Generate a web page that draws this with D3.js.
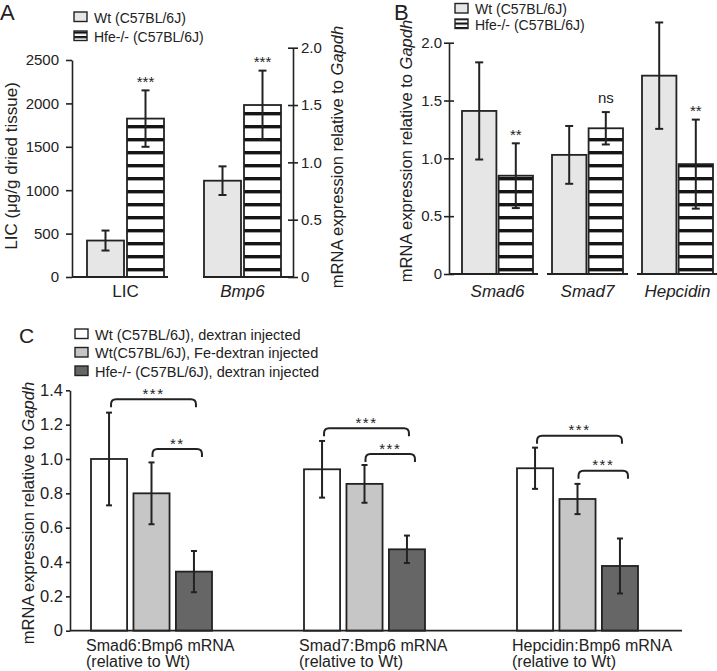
<!DOCTYPE html>
<html>
<head>
<meta charset="utf-8">
<script src="https://cdnjs.cloudflare.com/ajax/libs/d3/7.8.5/d3.min.js"></script>
<style>
body { margin: 0; background: #fff; }
svg { font-family: "Liberation Sans", Arial, Helvetica, sans-serif; }
</style>
</head>
<body>
<svg id="fig" width="717" height="671"></svg>
<script>
// ---- panel A data ----
var aGroups = ["LIC", "Bmp6"];
var aSeries = ["Wt (C57BL/6J)", "Hfe-/- (C57BL/6J)"];
var aWt = [420, 0.84], aWtErr = [115, 0.125];
var aHfe = [1825, 1.5], aHfeErr = [325, 0.3];
var aSig = ["***", "***"];
var aLeftTicks = [0, 500, 1000, 1500, 2000, 2500];
var aRightTicks = [0, 0.5, 1.0, 1.5, 2.0];

// ---- panel B data ----
var bGroups = ["Smad6", "Smad7", "Hepcidin"];
var bWt = [1.41, 1.03, 1.715], bWtErr = [0.42, 0.25, 0.46];
var bHfe = [0.85, 1.26, 0.95], bHfeErr = [0.28, 0.14, 0.385];
var bSig = ["**", "ns", "**"];
var bTicks = [0, 0.5, 1.0, 1.5, 2.0];

// ---- panel C data ----
var cGroups = ["Smad6:Bmp6 mRNA", "Smad7:Bmp6 mRNA", "Hepcidin:Bmp6 mRNA"];
var cSub = "(relative to Wt)";
var cSeries = ["Wt (C57BL/6J), dextran injected", "Wt(C57BL/6J), Fe-dextran injected", "Hfe-/- (C57BL/6J), dextran injected"];
var cWt = [1.0, 0.94, 0.946], cWtErr = [0.27, 0.165, 0.12];
var cFe = [0.80, 0.855, 0.767], cFeErr = [0.18, 0.11, 0.088];
var cHfe = [0.344, 0.474, 0.377], cHfeErr = [0.12, 0.08, 0.16];
var cBracketWide = [1.348, 1.179, 1.136], cBracketNarrow = [1.058, 1.029, 0.932];
var cSigWide = ["***", "***", "***"], cSigNarrow = ["**", "***", "***"];
var cTicks = [0, 0.2, 0.4, 0.6, 0.8, 1.0, 1.2, 1.4];

var ink = "#222";
var svg = d3.select("#fig");

var defs = svg.append("defs");
var hatch = defs.append("pattern").attr("id", "hatch")
    .attr("patternUnits", "userSpaceOnUse").attr("width", 10).attr("height", 13);
hatch.append("rect").attr("width", 10).attr("height", 13).attr("fill", "#fff");
hatch.append("rect").attr("y", 8).attr("width", 10).attr("height", 3.4).attr("fill", "#151515");
var hatchSmall = defs.append("pattern").attr("id", "hatchSmall")
    .attr("patternUnits", "userSpaceOnUse").attr("width", 10).attr("height", 4.5);
hatchSmall.append("rect").attr("width", 10).attr("height", 4.5).attr("fill", "#fff");
hatchSmall.append("rect").attr("y", 0).attr("width", 10).attr("height", 2.2).attr("fill", "#151515");

var fmt1 = function(d) { return d === 0 ? "0" : d3.format(".1f")(d); };

function styleAxis(g, fontSize) {
  g.select(".domain").attr("stroke", ink).attr("stroke-width", 1.6);
  g.selectAll(".tick line").attr("stroke", ink).attr("stroke-width", 1.6);
  g.selectAll(".tick text").attr("fill", ink).style("font-size", fontSize + "px")
    .style("font-family", "'Liberation Sans', Arial, sans-serif");
}

function errorBar(g, x, y0, y1, cap) {
  g.append("line").attr("x1", x).attr("x2", x).attr("y1", y0).attr("y2", y1)
    .attr("stroke", ink).attr("stroke-width", 2);
  [y0, y1].forEach(function(yy) {
    g.append("line").attr("x1", x - cap / 2).attr("x2", x + cap / 2).attr("y1", yy).attr("y2", yy)
      .attr("stroke", ink).attr("stroke-width", 2);
  });
}

function hline(x1, x2, y) {
  svg.append("line").attr("x1", x1).attr("x2", x2).attr("y1", y).attr("y2", y)
    .attr("stroke", ink).attr("stroke-width", 1.8);
}

function legend(x, y, items, fills, step, fs) {
  items.forEach(function(t, i) {
    svg.append("rect").attr("x", x).attr("y", y + i * step).attr("width", 13).attr("height", 9.5)
      .attr("fill", fills[i]).attr("stroke", ink).attr("stroke-width", 1.4);
    svg.append("text").attr("x", x + 20).attr("y", y + i * step + 10.5)
      .style("font-size", fs + "px").attr("fill", ink).text(t);
  });
}

// ================= Panel A =================
var aBase = 277;
var yAL = d3.scaleLinear().domain([0, 2500]).range([aBase, 60]);
var yAR = d3.scaleLinear().domain([0, 2]).range([aBase, 47.7]);
var xA0 = d3.scaleBand().domain(aGroups).range([87, 87 + 117 + 77]).paddingInner(1 - 77 / 117).paddingOuter(0);
var xA1 = d3.scaleBand().domain(aSeries).range([0, xA0.bandwidth()]).paddingInner(0.075);

var gA = svg.append("g");
aGroups.forEach(function(grp, i) {
  var y = i === 0 ? yAL : yAR;
  var rows = [
    {s: aSeries[0], v: aWt[i], e: aWtErr[i], fill: "#e6e6e6"},
    {s: aSeries[1], v: aHfe[i], e: aHfeErr[i], fill: "url(#hatch)"}
  ];
  rows.forEach(function(r) {
    var x = xA0(grp) + xA1(r.s);
    gA.append("rect").attr("x", x).attr("y", y(r.v)).attr("width", xA1.bandwidth())
      .attr("height", aBase - y(r.v)).attr("fill", r.fill).attr("stroke", ink).attr("stroke-width", 1.8);
    errorBar(gA, x + xA1.bandwidth() / 2, y(r.v + r.e), y(r.v - r.e), 8);
  });
  var cx = xA0(grp) + xA1(aSeries[1]) + xA1.bandwidth() / 2;
  gA.append("text").attr("x", cx).attr("y", y(aHfe[i] + aHfeErr[i]) - 3.5).attr("text-anchor", "middle")
    .style("font-size", "15px").attr("fill", ink).text(aSig[i]);
  gA.append("text").attr("x", xA0(grp) + xA0.bandwidth() / 2).attr("y", 297).attr("text-anchor", "middle")
    .style("font-size", "17px").style("font-style", i === 1 ? "italic" : "normal").attr("fill", ink).text(grp);
});
hline(72, xA0("LIC") + xA0.bandwidth() + 4, aBase);
hline(xA0("Bmp6") - 1, 293, aBase);

var axAL = svg.append("g").attr("transform", "translate(72,0)")
  .call(d3.axisLeft(yAL).tickValues(aLeftTicks).tickSize(6).tickSizeOuter(0).tickPadding(7).tickFormat(d3.format("d")));
styleAxis(axAL, 15);
var axAR = svg.append("g").attr("transform", "translate(293,0)")
  .call(d3.axisRight(yAR).tickValues(aRightTicks).tickSize(5).tickSizeOuter(0).tickPadding(3).tickFormat(fmt1));
styleAxis(axAR, 15);
axAR.selectAll(".tick line").attr("x1", -5);

svg.append("text").attr("transform", "translate(16.5,166) rotate(-90)").attr("text-anchor", "middle")
  .style("font-size", "17px").attr("fill", ink).text("LIC (\u03bcg/g dried tissue)");
var rl = svg.append("text").attr("transform", "translate(343,157) rotate(-90)").attr("text-anchor", "middle")
  .style("font-size", "16.5px").attr("fill", ink);
rl.append("tspan").text("mRNA expression relative to ");
rl.append("tspan").style("font-style", "italic").text("Gapdh");

legend(74, 12, aSeries, ["#e6e6e6", "url(#hatchSmall)"], 19, 14);
svg.append("text").attr("x", 0).attr("y", 20).style("font-size", "22px").attr("fill", ink).text("A");

// ================= Panel B =================
var bBase = 274;
var yB = d3.scaleLinear().domain([0, 2]).range([bBase, 42.7]);
var xB0 = d3.scaleBand().domain(bGroups).range([462, 462 + 90 * 2 + 71]).paddingInner(1 - 71 / 90).paddingOuter(0);
var xB1 = d3.scaleBand().domain(aSeries).range([0, xB0.bandwidth()]).paddingInner(0.06);

var gB = svg.append("g");
bGroups.forEach(function(grp, i) {
  var rows = [
    {s: aSeries[0], v: bWt[i], e: bWtErr[i], fill: "#e6e6e6"},
    {s: aSeries[1], v: bHfe[i], e: bHfeErr[i], fill: "url(#hatch)"}
  ];
  rows.forEach(function(r) {
    var x = xB0(grp) + xB1(r.s);
    gB.append("rect").attr("x", x).attr("y", yB(r.v)).attr("width", xB1.bandwidth())
      .attr("height", bBase - yB(r.v)).attr("fill", r.fill).attr("stroke", ink).attr("stroke-width", 1.8);
    errorBar(gB, x + xB1.bandwidth() / 2, yB(r.v + r.e), yB(r.v - r.e), 8);
  });
  var cx = xB0(grp) + xB1(aSeries[1]) + xB1.bandwidth() / 2;
  var off = bSig[i] === "ns" ? 9.5 : 3.5;
  gB.append("text").attr("x", cx).attr("y", yB(bHfe[i] + bHfeErr[i]) - off).attr("text-anchor", "middle")
    .style("font-size", "15px").attr("fill", ink).text(bSig[i]);
  gB.append("text").attr("x", xB0(grp) + xB0.bandwidth() / 2).attr("y", 297).attr("text-anchor", "middle")
    .style("font-size", "17px").style("font-style", "italic").attr("fill", ink).text(grp);
  var left = i === 0 ? 449 : xB0(grp) - 5;
  hline(left, xB0(grp) + xB0.bandwidth() + 5, bBase);
});

var axB = svg.append("g").attr("transform", "translate(449,0)")
  .call(d3.axisLeft(yB).tickValues(bTicks).tickSize(5).tickSizeOuter(0).tickPadding(2).tickFormat(fmt1));
styleAxis(axB, 15);
axB.selectAll(".tick line").attr("x1", 5);

var bl = svg.append("text").attr("transform", "translate(412,151) rotate(-90)").attr("text-anchor", "middle")
  .style("font-size", "16.5px").attr("fill", ink);
bl.append("tspan").text("mRNA expression relative to ");
bl.append("tspan").style("font-style", "italic").text("Gapdh");

legend(455, 3.5, aSeries, ["#e6e6e6", "url(#hatchSmall)"], 15.5, 14);
svg.append("text").attr("x", 394).attr("y", 20).style("font-size", "22px").attr("fill", ink).text("B");

// ================= Panel C =================
var cBase = 630.7;
var yC = d3.scaleLinear().domain([0, 1.4]).range([cBase, 390.3]);
var xC0 = d3.scaleBand().domain(cGroups).range([91, 91 + 213 * 2 + 121]).paddingInner(1 - 121 / 213).paddingOuter(0);
var xC1 = d3.scaleBand().domain(cSeries).range([0, xC0.bandwidth()]).paddingInner(0.15);
var cFills = ["#ffffff", "#c6c6c6", "#666666"];
var cVals = [cWt, cFe, cHfe], cErrs = [cWtErr, cFeErr, cHfeErr];

var gC = svg.append("g");
function bracket(xa, xb, yt) {
  var d = 8, r = 5;
  return "M" + xa + "," + (yt + d) + " L" + xa + "," + (yt + r) + " Q" + xa + "," + yt + " " + (xa + r) + "," + yt +
    " L" + (xb - r) + "," + yt + " Q" + xb + "," + yt + " " + xb + "," + (yt + r) + " L" + xb + "," + (yt + d);
}
cGroups.forEach(function(grp, i) {
  var centers = [];
  cSeries.forEach(function(s, k) {
    var x = xC0(grp) + xC1(s);
    var v = cVals[k][i], e = cErrs[k][i];
    centers.push(x + xC1.bandwidth() / 2);
    gC.append("rect").attr("x", x).attr("y", yC(v)).attr("width", xC1.bandwidth())
      .attr("height", cBase - yC(v)).attr("fill", cFills[k]).attr("stroke", ink).attr("stroke-width", 1.8);
    errorBar(gC, x + xC1.bandwidth() / 2, yC(v + e), yC(v - e), 6);
  });
  var b1 = [centers[0] + 2, centers[2] + 2, yC(cBracketWide[i]), cSigWide[i]];
  var b2 = [centers[1] + 1, centers[2] + 8, yC(cBracketNarrow[i]), cSigNarrow[i]];
  [b1, b2].forEach(function(b) {
    gC.append("path").attr("d", bracket(b[0], b[1], b[2])).attr("fill", "none")
      .attr("stroke", ink).attr("stroke-width", 2);
    gC.append("text").attr("x", (b[0] + b[1]) / 2).attr("y", b[2] - 0.5).attr("text-anchor", "middle")
      .style("font-size", "15px").style("letter-spacing", "1.5px").attr("fill", ink).text(b[3]);
  });
  var lab = gC.append("text").attr("x", xC0(grp) - 5).attr("y", 650.5).style("font-size", "16px").attr("fill", ink);
  lab.append("tspan").attr("x", xC0(grp) - 5).text(grp);
  lab.append("tspan").attr("x", xC0(grp) - 5).attr("dy", 16.5).text(cSub);
});
hline(70, 682, cBase);

var axC = svg.append("g").attr("transform", "translate(70,0)")
  .call(d3.axisLeft(yC).tickValues(cTicks).tickSize(4).tickSizeOuter(0).tickPadding(3).tickFormat(fmt1));
styleAxis(axC, 16.5);

var cl = svg.append("text").attr("transform", "translate(33.5,513) rotate(-90)").attr("text-anchor", "middle")
  .style("font-size", "16.5px").attr("fill", ink);
cl.append("tspan").text("mRNA expression relative to ");
cl.append("tspan").style("font-style", "italic").text("Gapdh");

legend(75, 329, cSeries, cFills, 18.5, 14.5);
svg.append("text").attr("x", 19).attr("y", 343).style("font-size", "21px").attr("fill", ink).text("C");
</script>
</body>
</html>
